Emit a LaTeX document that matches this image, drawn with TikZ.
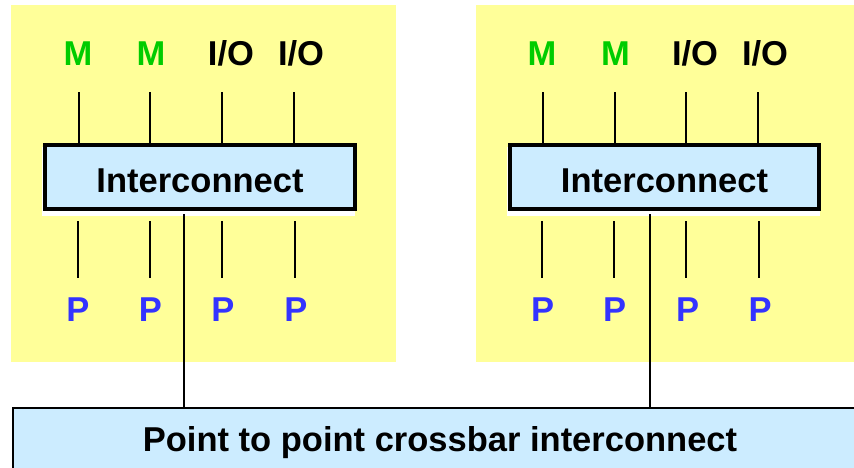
\documentclass[tikz,border=0pt]{standalone}
\usepackage{fontspec}
\setmainfont{Liberation Sans}
\definecolor{panelyellow}{RGB}{255,255,153}
\definecolor{boxblue}{RGB}{204,236,255}
\definecolor{mgreen}{RGB}{0,204,0}
\definecolor{pblue}{RGB}{51,51,255}
\tikzset{
  panel/.style={fill=panelyellow, draw=none},
  icbox/.style={draw=black, line width=4pt, fill=boxblue, minimum height=64pt, inner sep=0pt,
    text height=31.4pt, text depth=0pt, font=\fontsize{34.5}{40}\selectfont\bfseries},
  xbarbox/.style={draw=black, line width=2pt, fill=boxblue, minimum width=854pt, minimum height=72pt,
    inner sep=0pt, text height=24.7pt, text depth=9.3pt, font=\fontsize{34.5}{40}\selectfont\bfseries},
  lbl/.style={anchor=base, inner sep=0pt, font=\fontsize{34.5}{40}\selectfont\bfseries},
  mlbl/.style={lbl, text=mgreen},
  iolbl/.style={lbl, text=black},
  plbl/.style={lbl, text=pblue},
  wire/.style={draw=black, line width=2pt},
  shadowbox/.style={fill=white, draw=none}
}
\begin{document}
\begin{tikzpicture}[x=1pt,y=-1pt]
\useasboundingbox (0,0) rectangle (854,467);
\clip (0,0) rectangle (854,467);
% panels
\fill[panel] (11.3,5) rectangle (395.7,361.7);
\fill[panel] (476,5) rectangle (854,361.7);
% white shadows under interconnect boxes
\fill[shadowbox] (42,147) rectangle (355,216);
\fill[shadowbox] (507,147) rectangle (820,216);
% interconnect boxes
\node[icbox, minimum width=310pt] (ic1) at (200,177) {Interconnect};
\node[icbox, minimum width=309pt] (ic2) at (664.5,177) {Interconnect};
% crossbar box
\node[xbarbox] (xbar) at (440,444) {Point to point crossbar interconnect};
% top labels, left
\node[mlbl] (m1) at (78,65) {M};
\node[mlbl] (m2) at (151,65) {M};
\node[iolbl] (io1) at (231,65) {I/O};
\node[iolbl] (io2) at (301,65) {I/O};
% top labels, right
\node[mlbl] (m3) at (542,65.5) {M};
\node[mlbl] (m4) at (615.5,65.5) {M};
\node[iolbl] (io3) at (695,65.5) {I/O};
\node[iolbl] (io4) at (765,65.5) {I/O};
% bottom labels
\node[plbl] (p1) at (78,321.7) {P};
\node[plbl] (p2) at (150.5,321.7) {P};
\node[plbl] (p3) at (223,321.7) {P};
\node[plbl] (p4) at (296,321.7) {P};
\node[plbl] (p5) at (542.7,321.7) {P};
\node[plbl] (p6) at (614.7,321.7) {P};
\node[plbl] (p7) at (687.7,321.7) {P};
\node[plbl] (p8) at (760,321.7) {P};
% free ends of wires
\foreach \n/\x in {a1/78.7,a2/150.3,a3/222.3,a4/294.3,a5/543,a6/615,a7/686.3,a8/758.3}{
  \coordinate (\n) at (\x,92);
}
\foreach \n/\x in {b1/77.7,b2/150,b3/222,b4/294.7,b5/542,b6/614.3,b7/686.3,b8/759.3}{
  \coordinate (\n) at (\x,221);
  \coordinate (\n e) at (\x,278);
}
% top wires
\foreach \n in {a1,a2,a3,a4}{ \draw[wire] (\n) -- (\n |- ic1.north); }
\foreach \n in {a5,a6,a7,a8}{ \draw[wire] (\n) -- (\n |- ic2.north); }
% bottom wires
\foreach \n in {b1,b2,b3,b4,b5,b6,b7,b8}{ \draw[wire] (\n) -- (\n e); }
% links to crossbar
\coordinate (c1) at (183.7,214);
\coordinate (c2) at (650,214);
\draw[wire] (c1) -- (c1 |- xbar.north);
\draw[wire] (c2) -- (c2 |- xbar.north);
\end{tikzpicture}
\end{document}
